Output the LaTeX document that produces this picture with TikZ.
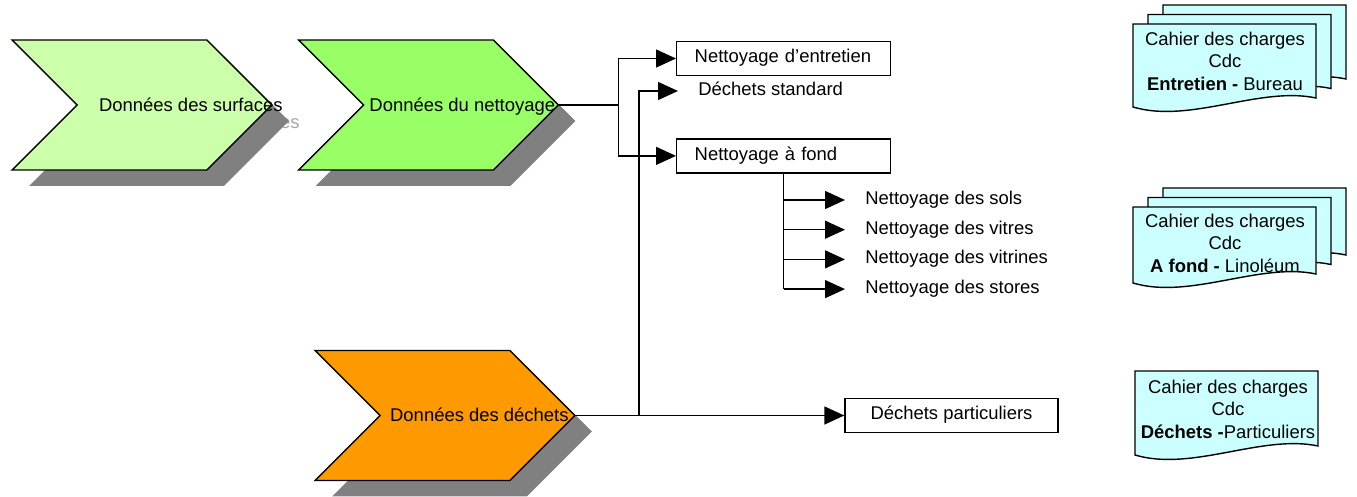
\documentclass[tikz,border=0pt]{standalone}
\usepackage{fontspec}
\setmainfont{Liberation Sans}
\usetikzlibrary{arrows.meta,positioning,shapes.symbols,shadows,calc}
\definecolor{surfgreen}{RGB}{204,255,170}
\definecolor{nettgreen}{RGB}{153,255,102}
\definecolor{dechorange}{RGB}{255,153,0}
\definecolor{cdccyan}{RGB}{204,255,255}
\definecolor{shadowgray}{RGB}{128,128,128}
\definecolor{textshadow}{RGB}{165,165,165}
% one sheet of a cahier des charges (left, top, height)
\newcommand{\cdcsheet}[3]{%
  \filldraw[sheet] (#1,#2) -- ++(183,0) -- ++(0,#3-9)
    .. controls +(-56,-12) and +(57,17) .. ++(-183,9) -- cycle;}

\begin{document}
\begin{tikzpicture}[
    x=0.02cm, y=-0.02cm,
    font=\fontsize{10.5}{12.8}\selectfont,
    chevron/.style={shape=signal, signal from=west, signal to=east,
                    signal pointer angle=90, draw=black, line width=0.8pt,
                    minimum width=5.2cm, minimum height=2.6cm, inner sep=0pt,
                    drop shadow={shadow xshift=0.34cm, shadow yshift=-0.32cm,
                                 fill=shadowgray, opacity=1}},
    chevlbl/.style={inner sep=0pt, anchor=base east},
    box/.style={rectangle, draw=black, line width=0.8pt, minimum width=4.28cm,
                minimum height=0.68cm, inner xsep=0.36cm, inner ysep=0pt,
                text height=0.72em, text depth=0.21em},
    leftbox/.style={box, text width=3.56cm, align=left},
    item/.style={rectangle, inner xsep=0.4cm, inner ysep=0pt, minimum height=0.58cm,
                 text height=0.72em, text depth=0.21em},
    sheet/.style={fill=cdccyan, draw=black, line width=0.8pt},
    conn/.style={black, line width=0.8pt},
    arr/.style={conn, -{Triangle[length=0.4cm, width=0.36cm]}}
]
\useasboundingbox (0,0) rectangle (1357,497);

% Chevrons
\node[chevlbl, text=textshadow] (surfshd) at (300,128) {Données des surfaces};
\node[chevron, fill=surfgreen] (surf) at (142,105) {};
\node[chevlbl] (surflbl) at ($(surf.east)+(10,6)$) {Données des surfaces};

\node[chevron, fill=nettgreen] (nett) at (428.5,105) {};
\node[chevlbl] (nettlbl) at ($(nett.east)+(-4,6)$) {Données du nettoyage};

\node[chevron, fill=dechorange] (dech) at (445,415.5) {};
\node[chevlbl] (dechlbl) at ($(dech.east)+(-7,6)$) {Données des déchets};

% Nettoyage
\node[leftbox, anchor=west] (entr) at (676,58.5) {Nettoyage d’entretien};
\node[leftbox, below=1.24cm of entr] (fond) {Nettoyage à fond};
\node[item, anchor=west] (dstd) at (678,91) {Déchets standard};

\node[item, anchor=west] (sols) at (845,200) {Nettoyage des sols};
\node[item, below=0pt of sols.south west, anchor=north west] (vitres) {Nettoyage des vitres};
\node[item, below=0pt of vitres.south west, anchor=north west] (vitrines) {Nettoyage des vitrines};
\node[item, below=0pt of vitrines.south west, anchor=north west] (stores) {Nettoyage des stores};

% Dechets
\node[box, minimum width=4.26cm] (dpart) at (951.5,415.5) {Déchets particuliers};

% Connectors
\coordinate (jn) at ($(nett.east)+(59,0)$);
\coordinate (jd) at ($(dech.east)+(63,0)$);
\draw[conn] (nett.east) -- (jn);
\draw[arr] (jn) |- (entr.west);
\draw[arr] (jn) |- (fond.west);
\draw[arr] (dech.east) -- (dpart.west);
\draw[arr] (jd) |- (dstd.west);
\draw[conn] (fond.south) -- (stores.west -| fond.south);
\draw[arr] (sols.west -| fond.south) -- (sols.west);
\draw[arr] (vitres.west -| fond.south) -- (vitres.west);
\draw[arr] (vitrines.west -| fond.south) -- (vitrines.west);
\draw[arr] (stores.west -| fond.south) -- (stores.west);

% Cahiers des charges
\cdcsheet{1163}{5}{83}
\cdcsheet{1148}{14.5}{83}
\cdcsheet{1133}{24}{83}
\node[align=center, inner sep=0pt] (cdcA) at (1225,61)
  {Cahier des charges\\Cdc\\\textbf{Entretien -} Bureau};

\cdcsheet{1163}{188}{76}
\cdcsheet{1148}{197.5}{76}
\cdcsheet{1133}{207}{76}
\node[align=center, inner sep=0pt] (cdcB) at (1225,243)
  {Cahier des charges\\Cdc\\\textbf{A fond -} Linoléum};

\cdcsheet{1135}{371}{84}
\node[align=center, inner sep=0pt] (cdcC) at (1228,409)
  {Cahier des charges\\Cdc\\\textbf{Déchets -}Particuliers};
\end{tikzpicture}
\end{document}
